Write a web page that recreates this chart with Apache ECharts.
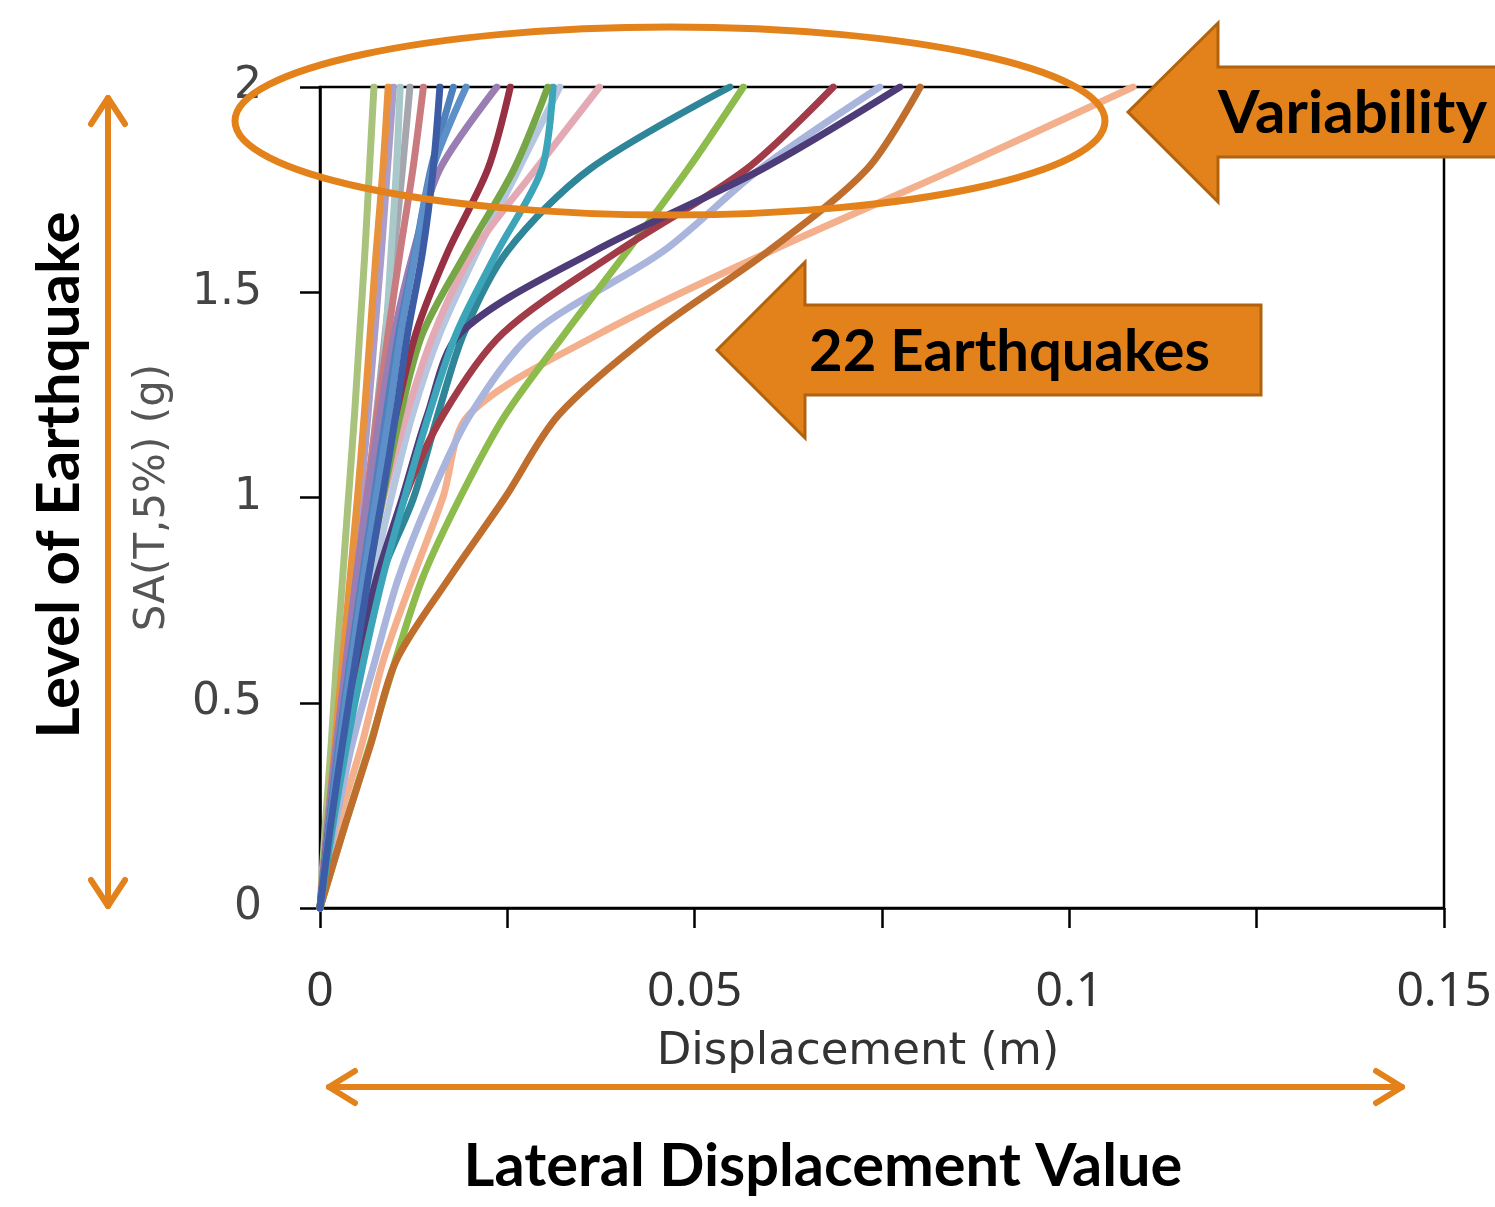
<!DOCTYPE html>
<html>
<head>
<meta charset="utf-8">
<script src="https://cdn.jsdelivr.net/npm/echarts@6/dist/echarts.min.js"></script>
<style>
html,body{margin:0;padding:0;background:#fff;}
#chart{width:1495px;height:1207px;}
</style>
</head>
<body>
<div id="chart"></div>
<script>
// Spectral acceleration levels (g) shared by all records
const saLevels = [0, 0.2, 0.4, 0.6, 0.8, 1.0, 1.2, 1.4, 1.6, 1.8, 2.0];

// Displacement (m) of each earthquake record at the SA levels above
const eqBrown      = [0, 0.0033, 0.0068, 0.0101, 0.0171, 0.0247, 0.0318, 0.0443, 0.0598, 0.0730, 0.0801];
const eqSalmon     = [0, 0.0024, 0.0056, 0.0084, 0.0123, 0.0164, 0.0198, 0.0374, 0.0601, 0.0847, 0.1085];
const eqGreen      = [0, 0.0033, 0.0067, 0.0100, 0.0136, 0.0187, 0.0247, 0.0327, 0.0410, 0.0491, 0.0565];
const eqNavy       = [0, 0.0015, 0.0030, 0.0048, 0.0075, 0.0110, 0.0143, 0.0187, 0.0366, 0.0590, 0.0774];
const eqDarkRed2   = [0, 0.0016, 0.0033, 0.0053, 0.0080, 0.0113, 0.0164, 0.0244, 0.0398, 0.0569, 0.0685];
const eqTeal2      = [0, 0.0015, 0.0033, 0.0056, 0.0080, 0.0125, 0.0157, 0.0192, 0.0250, 0.0360, 0.0547];
const eqPeriwinkle = [0, 0.0020, 0.0043, 0.0073, 0.0104, 0.0147, 0.0200, 0.0284, 0.0458, 0.0587, 0.0747];
const eqPink       = [0, 0.0012, 0.0027, 0.0043, 0.0062, 0.0085, 0.0115, 0.0152, 0.0205, 0.0288, 0.0373];
const eqTeal1      = [0, 0.0017, 0.0036, 0.0058, 0.0083, 0.0113, 0.0145, 0.0182, 0.0237, 0.0296, 0.0311];
const eqOliveGreen = [0, 0.0014, 0.0029, 0.0045, 0.0063, 0.0084, 0.0107, 0.0137, 0.0196, 0.0259, 0.0304];
const eqDarkRed1   = [0, 0.0012, 0.0026, 0.0041, 0.0057, 0.0077, 0.0101, 0.0128, 0.0171, 0.0224, 0.0254];
const eqMauve      = [0, 0.0010, 0.0022, 0.0035, 0.0048, 0.0063, 0.0080, 0.0099, 0.0125, 0.0160, 0.0236];
const eqSteelBlue  = [0, 0.0013, 0.0027, 0.0042, 0.0058, 0.0075, 0.0092, 0.0108, 0.0128, 0.0150, 0.0195];
const eqDarkBlue   = [0, 0.0014, 0.0030, 0.0047, 0.0064, 0.0083, 0.0101, 0.0117, 0.0137, 0.0151, 0.0160];
const eqBlue       = [0, 0.0012, 0.0025, 0.0040, 0.0056, 0.0072, 0.0088, 0.0105, 0.0127, 0.0148, 0.0178];
const eqDustyRose  = [0, 0.0010, 0.0022, 0.0035, 0.0048, 0.0062, 0.0076, 0.0091, 0.0107, 0.0124, 0.0138];
const eqGrayTeal   = [0, 0.0012, 0.0026, 0.0040, 0.0054, 0.0067, 0.0079, 0.0088, 0.0095, 0.0102, 0.0107];
const eqOrange     = [0, 0.0010, 0.0020, 0.0030, 0.0040, 0.0050, 0.0059, 0.0067, 0.0075, 0.0084, 0.0091];
const eqOliveLight = [0, 0.0007, 0.0015, 0.0022, 0.0030, 0.0038, 0.0046, 0.0053, 0.0060, 0.0066, 0.0072];
const eqLavender   = [0, 0.0010, 0.0021, 0.0032, 0.0043, 0.0054, 0.0064, 0.0073, 0.0082, 0.0090, 0.0098];
const eqLightBlue  = [0, 0.0015, 0.0032, 0.0050, 0.0070, 0.0095, 0.0123, 0.0160, 0.0210, 0.0265, 0.0320];
const eqGray       = [0, 0.0011, 0.0024, 0.0037, 0.0050, 0.0063, 0.0075, 0.0087, 0.0099, 0.0110, 0.0120];

const records = [
  eqSalmon, eqLightBlue, eqPeriwinkle, eqGreen, eqTeal2, eqDarkRed2, eqNavy, eqBrown,
  eqPink, eqTeal1, eqOliveGreen, eqGray, eqLavender, eqGrayTeal, eqOliveLight, eqOrange,
  eqDustyRose, eqMauve, eqDarkRed1, eqBlue, eqSteelBlue, eqDarkBlue
];
const recordColors = [
  '#F4B08C', '#B4C6E0', '#A9B5DD', '#8DBB4C', '#2E8698', '#A23B48', '#4E3C78', '#BF6E2D',
  '#E3AAB6', '#3CA5BA', '#76A646', '#A6A6AE', '#AA9DCB', '#A9C8CA', '#A9C27C', '#E8923E',
  '#C97B80', '#9A7DB2', '#983043', '#4F81BD', '#5D8FC8', '#3D5CA6'
];

// Axis ticks
const xTicks = [0, 0.05, 0.1, 0.15];
const yTicks = [0, 0.5, 1, 1.5, 2];

const series = records.map((rec, i) => ({
  type: 'line',
  name: 'Earthquake ' + (i + 1),
  data: saLevels.map((sa, k) => [rec[k], sa]),
  showSymbol: false,
  smooth: 0.3,
  lineStyle: { width: 7, color: recordColors[i], cap: 'round', join: 'round' },
  itemStyle: { color: recordColors[i] },
  z: 2
}));

const ORANGE = '#E3821A';
const ORANGE_DARK = '#B0620F';
const boldFont = 'Lato, "Open Sans", sans-serif';

const chart = echarts.init(document.getElementById('chart'), null, { renderer: 'canvas' });
chart.setOption({
  animation: false,
  backgroundColor: '#ffffff',
  grid: {
    left: 320, right: 51, top: 87, bottom: 299,
    show: true, borderColor: '#000', borderWidth: 2.5, backgroundColor: 'transparent'
  },
  xAxis: {
    type: 'value', min: 0, max: 0.15, interval: 0.025,
    name: 'Displacement (m)', nameLocation: 'middle', nameGap: 122,
    nameTextStyle: { fontFamily: 'DejaVu Sans', fontSize: 45, color: '#333', padding: [0, 48, 0, 0] },
    axisLine: { show: true, lineStyle: { color: '#000', width: 2.5 } },
    axisTick: { show: true, inside: false, length: 20, lineStyle: { color: '#000', width: 2.5 } },
    axisLabel: {
      margin: 60, fontFamily: 'Noto Sans', fontSize: 48, color: '#333',
      formatter: v => {
        const hit = xTicks.find(t => Math.abs(t - v) < 1e-9);
        return hit === undefined ? '' : String(hit);
      }
    },
    splitLine: { show: false }
  },
  yAxis: {
    type: 'value', min: 0, max: 2, interval: 0.5,
    name: 'SA(T,5%) (g)', nameLocation: 'middle', nameGap: 146,
    nameTextStyle: { fontFamily: 'DejaVu Sans', fontSize: 42, color: '#555' },
    axisLine: { show: true, lineStyle: { color: '#000', width: 2.5 } },
    axisTick: { show: true, inside: false, length: 20, lineStyle: { color: '#000', width: 2.5 } },
    axisLabel: {
      margin: 58, fontFamily: 'DejaVu Sans', fontSize: 44, color: '#444',
      formatter: v => {
        const hit = yTicks.find(t => Math.abs(t - v) < 1e-9);
        return hit === undefined ? '' : String(hit);
      }
    },
    splitLine: { show: false }
  },
  series: series,
  graphic: [
    // Ellipse highlighting variability
    { type: 'ellipse', z: 100, shape: { cx: 670, cy: 121, rx: 435, ry: 94 },
      style: { fill: 'none', stroke: ORANGE, lineWidth: 7 } },
    // Variability arrow
    { type: 'polygon', z: 110,
      shape: { points: [[1128,112],[1218,23],[1218,67],[1500,67],[1500,157],[1218,157],[1218,202]] },
      style: { fill: ORANGE, stroke: ORANGE_DARK, lineWidth: 3 } },
    { type: 'text', z: 111, x: 1218, y: 114,
      style: { text: 'Variability', font: 'bold 60px ' + boldFont, fill: '#000',
               align: 'left', verticalAlign: 'middle', textAlign: 'left', textVerticalAlign: 'middle' } },
    // 22 Earthquakes arrow
    { type: 'polygon', z: 110,
      shape: { points: [[717,350],[805,262],[805,305],[1261,305],[1261,395],[805,395],[805,438]] },
      style: { fill: ORANGE, stroke: ORANGE_DARK, lineWidth: 3 } },
    { type: 'text', z: 111, x: 809, y: 352,
      style: { text: '22 Earthquakes', font: 'bold 58px ' + boldFont, fill: '#000',
               align: 'left', verticalAlign: 'middle', textAlign: 'left', textVerticalAlign: 'middle' } },
    // Vertical double arrow
    { type: 'line', z: 100, shape: { x1: 108, y1: 98, x2: 108, y2: 906 },
      style: { stroke: ORANGE, lineWidth: 6, lineCap: 'round' } },
    { type: 'polyline', z: 100, shape: { points: [[91,124],[108,98],[125,124]] },
      style: { stroke: ORANGE, lineWidth: 6, lineCap: 'round', lineJoin: 'round', fill: 'none' } },
    { type: 'polyline', z: 100, shape: { points: [[91,880],[108,906],[125,880]] },
      style: { stroke: ORANGE, lineWidth: 6, lineCap: 'round', lineJoin: 'round', fill: 'none' } },
    { type: 'text', z: 100, x: 60, y: 475, rotation: Math.PI / 2,
      style: { text: 'Level of Earthquake', font: 'bold 60px ' + boldFont, fill: '#000',
               align: 'center', verticalAlign: 'middle', textAlign: 'center', textVerticalAlign: 'middle' } },
    // Horizontal double arrow
    { type: 'line', z: 100, shape: { x1: 329, y1: 1087, x2: 1402, y2: 1087 },
      style: { stroke: ORANGE, lineWidth: 6, lineCap: 'round' } },
    { type: 'polyline', z: 100, shape: { points: [[355,1071],[329,1087],[355,1103]] },
      style: { stroke: ORANGE, lineWidth: 6, lineCap: 'round', lineJoin: 'round', fill: 'none' } },
    { type: 'polyline', z: 100, shape: { points: [[1376,1071],[1402,1087],[1376,1103]] },
      style: { stroke: ORANGE, lineWidth: 6, lineCap: 'round', lineJoin: 'round', fill: 'none' } },
    { type: 'text', z: 100, x: 823, y: 1167,
      style: { text: 'Lateral Displacement Value', font: 'bold 59.5px ' + boldFont, fill: '#000',
               align: 'center', verticalAlign: 'middle', textAlign: 'center', textVerticalAlign: 'middle' } }
  ]
});
</script>
</body>
</html>
